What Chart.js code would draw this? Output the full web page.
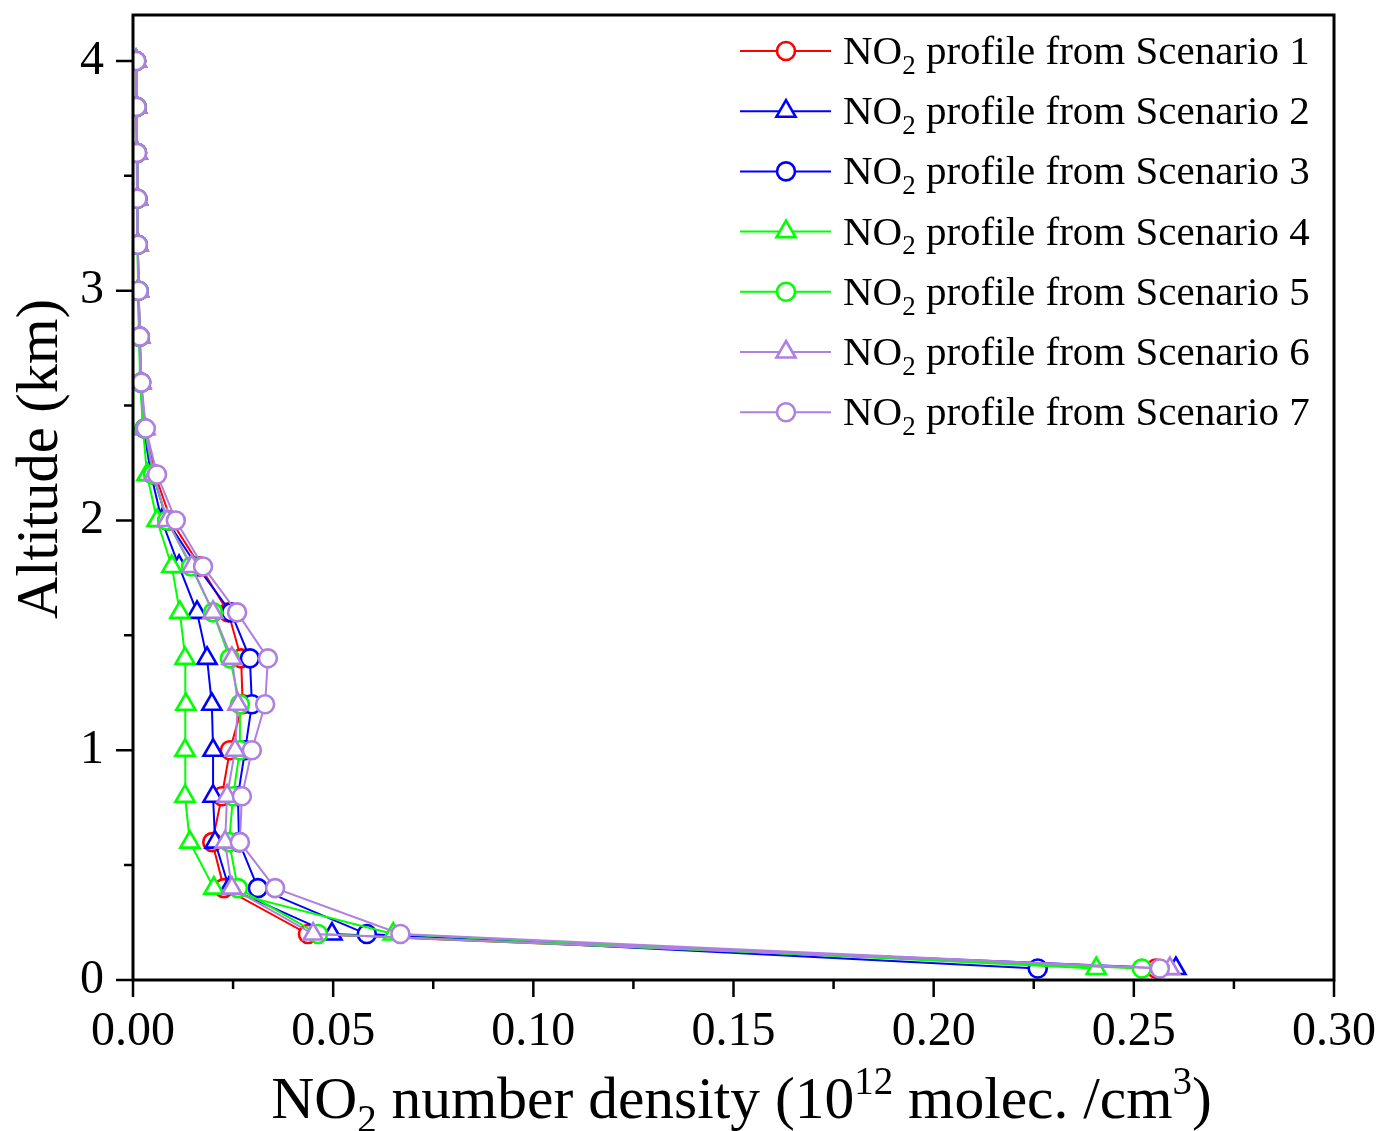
<!DOCTYPE html>
<html>
<head>
<meta charset="utf-8">
<title>NO2 profiles</title>
<script src="https://cdn.jsdelivr.net/npm/chart.js@4.4.1/dist/chart.umd.min.js"></script>
<style>
  html, body { margin: 0; padding: 0; background: #fff; }
  #wrap { width: 1381px; height: 1131px; position: relative; }
</style>
</head>
<body>
<div id="wrap"><canvas id="profileChart"></canvas></div>
<script>
// altitude levels (km) shared by every profile
const altitudes = [0.05, 0.2, 0.4, 0.6, 0.8, 1.0, 1.2, 1.4, 1.6, 1.8, 2.0, 2.2, 2.4, 2.6, 2.8, 3.0, 3.2, 3.4, 3.6, 3.8, 4.0];

// NO2 number density, 10^12 molec./cm^3
const scenario1 = [0.2555, 0.0437, 0.0227, 0.0198, 0.0222, 0.0242, 0.0274, 0.0270, 0.0238, 0.0168, 0.0095, 0.0055, 0.0030, 0.0020, 0.0017, 0.0014, 0.0012, 0.0011, 0.0010, 0.0009, 0.0008];
const scenario2 = [0.2605, 0.0497, 0.0240, 0.0205, 0.0200, 0.0200, 0.0197, 0.0185, 0.0160, 0.0115, 0.0072, 0.0045, 0.0027, 0.0019, 0.0016, 0.0013, 0.0012, 0.0011, 0.0010, 0.0009, 0.0008];
const scenario3 = [0.2260, 0.0584, 0.0312, 0.0265, 0.0262, 0.0280, 0.0297, 0.0292, 0.0245, 0.0160, 0.0085, 0.0050, 0.0029, 0.0020, 0.0017, 0.0014, 0.0012, 0.0011, 0.0010, 0.0009, 0.0008];
const scenario4 = [0.2406, 0.0650, 0.0202, 0.0142, 0.0130, 0.0130, 0.0132, 0.0130, 0.0117, 0.0097, 0.0060, 0.0035, 0.0025, 0.0018, 0.0015, 0.0013, 0.0011, 0.0010, 0.0009, 0.0008, 0.0007];
const scenario5 = [0.2520, 0.0462, 0.0262, 0.0240, 0.0250, 0.0267, 0.0267, 0.0242, 0.0200, 0.0145, 0.0085, 0.0050, 0.0029, 0.0020, 0.0017, 0.0014, 0.0012, 0.0011, 0.0010, 0.0009, 0.0008];
const scenario6 = [0.2590, 0.0450, 0.0247, 0.0230, 0.0235, 0.0255, 0.0262, 0.0247, 0.0200, 0.0147, 0.0085, 0.0052, 0.0030, 0.0020, 0.0017, 0.0014, 0.0012, 0.0011, 0.0010, 0.0009, 0.0008];
const scenario7 = [0.2565, 0.0668, 0.0355, 0.0267, 0.0272, 0.0297, 0.0330, 0.0337, 0.0260, 0.0175, 0.0107, 0.0060, 0.0032, 0.0021, 0.0017, 0.0014, 0.0012, 0.0011, 0.0010, 0.0009, 0.0008];

const scenarioNames = ['Scenario 1', 'Scenario 2', 'Scenario 3', 'Scenario 4', 'Scenario 5', 'Scenario 6', 'Scenario 7'];
const scenarioColors = ['#ff0000', '#0000ff', '#0000ff', '#00ff00', '#00ff00', '#ae80e0', '#ae80e0'];
const scenarioMarkers = ['circle', 'triangle', 'circle', 'triangle', 'circle', 'triangle', 'circle'];

const xTickValues = [0, 0.05, 0.10, 0.15, 0.20, 0.25, 0.30];
const xTickLabels = ['0.00', '0.05', '0.10', '0.15', '0.20', '0.25', '0.30'];
const yTickValues = [0, 1, 2, 3, 4];
const yTickLabels = ['0', '1', '2', '3', '4'];

const serif = '"Liberation Serif", "Times New Roman", Times, serif';
Chart.defaults.font.family = serif;
Chart.defaults.color = '#000';

const allScenarios = [scenario1, scenario2, scenario3, scenario4, scenario5, scenario6, scenario7];

function markerRadius(style) {
    return style === 'triangle' ? 11 : 9;
}

const datasets = allScenarios.map((values, i) => ({
    label: 'NO2 profile from ' + scenarioNames[i],
    data: values.map((v, k) => ({ x: v, y: altitudes[k] })),
    showLine: true,
    borderColor: scenarioColors[i],
    borderWidth: 2,
    pointStyle: scenarioMarkers[i],
    pointRadius: markerRadius(scenarioMarkers[i]),
    pointBorderWidth: 2.6,
    pointBorderColor: scenarioColors[i],
    pointBackgroundColor: '#fff',
    order: allScenarios.length - i
}));

// text with sub/superscript pieces: [text, 0 normal | -1 sub | 1 sup]
function drawRich(ctx, parts, x, y, size, align) {
    const fontFor = s => (s === 0 ? size : Math.round(size * 0.66)) + 'px ' + serif;
    let total = 0;
    parts.forEach(p => {
        ctx.font = fontFor(p[1]);
        total += ctx.measureText(p[0]).width;
    });
    let cx = align === 'center' ? x - total / 2 : x;
    ctx.textBaseline = 'alphabetic';
    ctx.textAlign = 'left';
    parts.forEach(p => {
        ctx.font = fontFor(p[1]);
        let dy = 0;
        if (p[1] === -1) dy = size * 0.24;
        if (p[1] === 1) dy = -size * 0.40;
        ctx.fillText(p[0], cx, y + dy);
        cx += ctx.measureText(p[0]).width;
    });
}

const framePlugin = {
    id: 'frameAndLabels',
    afterDraw(chart) {
        const ctx = chart.ctx;
        const area = chart.chartArea;
        const xs = chart.scales.x;
        const ys = chart.scales.y;
        ctx.save();
        ctx.strokeStyle = '#000';
        ctx.fillStyle = '#000';

        // outer box
        ctx.lineWidth = 3;
        ctx.strokeRect(area.left, area.top, area.right - area.left, area.bottom - area.top);

        // outward ticks, majors longer than minors
        ctx.lineWidth = 2.5;
        ctx.beginPath();
        for (let k = 0; k <= 12; k++) {
            const px = xs.getPixelForValue(k * 0.025);
            ctx.moveTo(px, area.bottom);
            ctx.lineTo(px, area.bottom + (k % 2 === 0 ? 17 : 9));
        }
        for (let k = 0; k <= 8; k++) {
            const py = ys.getPixelForValue(k * 0.5);
            ctx.moveTo(area.left, py);
            ctx.lineTo(area.left - (k % 2 === 0 ? 17 : 9), py);
        }
        ctx.stroke();

        // axis titles
        const midX = (area.left + area.right) / 2 + 8;
        drawRich(ctx, [['NO', 0], ['2', -1], [' number density (10', 0], ['12', 1], [' molec. /cm', 0], ['3', 1], [')', 0]],
            midX, 1118, 59.5, 'center');

        ctx.save();
        ctx.translate(57, 459);
        ctx.rotate(-Math.PI / 2);
        drawRich(ctx, [['Altitude (km)', 0]], 0, 0, 58.5, 'center');
        ctx.restore();

        // legend
        chart.data.datasets.forEach((ds, i) => {
            const rowY = 51 + i * 60.2;
            ctx.strokeStyle = ds.borderColor;
            ctx.lineWidth = 2;
            ctx.beginPath();
            ctx.moveTo(740, rowY);
            ctx.lineTo(831, rowY);
            ctx.stroke();
            ctx.fillStyle = '#fff';
            ctx.lineWidth = ds.pointBorderWidth;
            Chart.helpers.drawPoint(ctx, {
                pointStyle: ds.pointStyle,
                radius: ds.pointRadius,
                rotation: 0,
                borderWidth: ds.pointBorderWidth
            }, 786, rowY);
            ctx.fillStyle = '#000';
            drawRich(ctx, [['NO', 0], ['2', -1], [' profile from ' + scenarioNames[i], 0]], 843, rowY + 13, 41, 'left');
        });
        ctx.restore();
    }
};

const chart = new Chart(document.getElementById('profileChart'), {
    type: 'scatter',
    data: { datasets: datasets },
    options: {
        responsive: true,
        maintainAspectRatio: false,
        animation: false,
        layout: { padding: { top: 15, right: 47, left: 0, bottom: 0 } },
        plugins: {
            legend: { display: false },
            tooltip: { enabled: false }
        },
        scales: {
            x: {
                type: 'linear',
                min: 0,
                max: 0.3,
                grid: { display: false, drawTicks: false, tickLength: 0 },
                border: { display: false },
                afterFit: s => {
                    s.height = 151;
                    s.paddingLeft = 0;
                    s.paddingRight = 0;
                },
                afterBuildTicks: s => { s.ticks = xTickValues.map(v => ({ value: v })); },
                ticks: {
                    padding: 24,
                    font: { size: 48 },
                    color: '#000',
                    maxRotation: 0,
                    autoSkip: false,
                    callback: (v, idx) => xTickLabels[idx]
                }
            },
            y: {
                type: 'linear',
                min: 0,
                max: 4.2,
                grid: { display: false, drawTicks: false, tickLength: 0 },
                border: { display: false },
                afterFit: s => {
                    s.width = 133;
                    s.paddingTop = 0;
                    s.paddingBottom = 0;
                },
                afterBuildTicks: s => { s.ticks = yTickValues.map(v => ({ value: v })); },
                ticks: {
                    padding: 29,
                    font: { size: 48 },
                    color: '#000',
                    autoSkip: false,
                    callback: (v, idx) => yTickLabels[idx]
                }
            }
        }
    },
    plugins: [framePlugin]
});
</script>
</body>
</html>
